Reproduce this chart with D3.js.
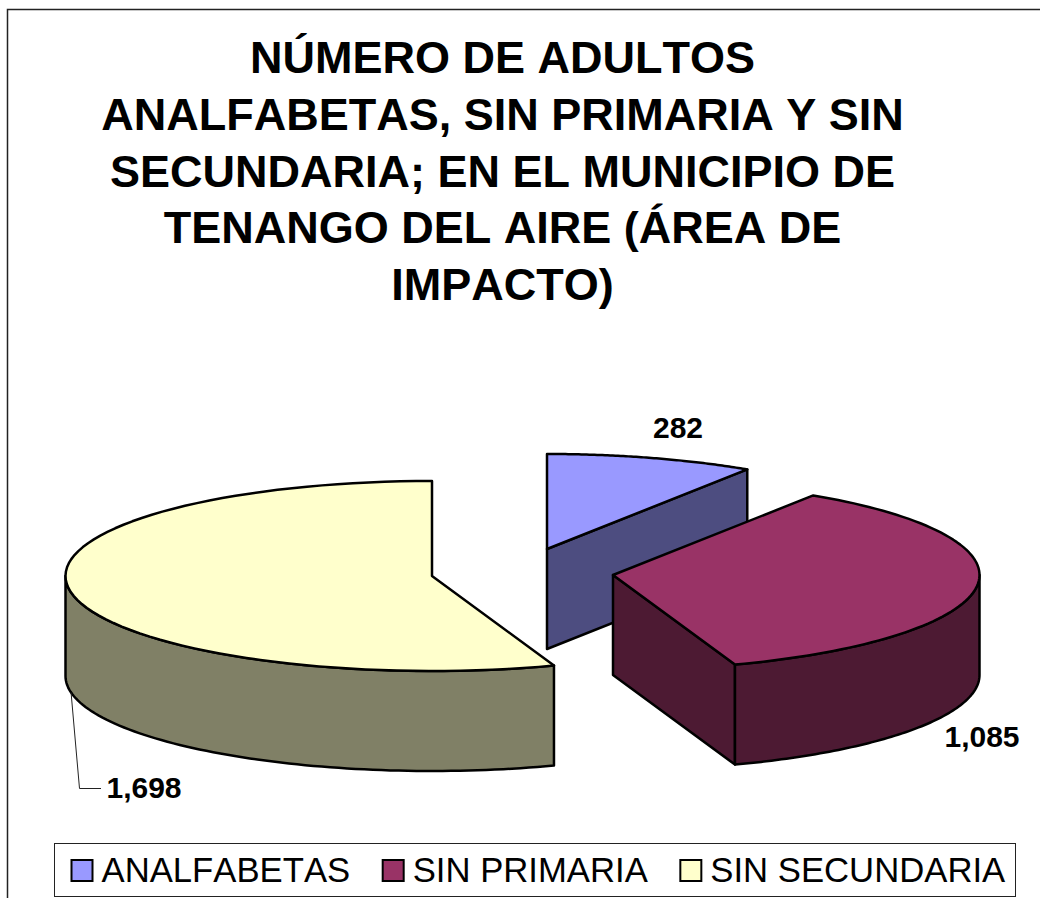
<!DOCTYPE html>
<html>
<head>
<meta charset="utf-8">
<script src="https://cdn.jsdelivr.net/npm/d3@7"></script>
<style>
	html, body { margin: 0; padding: 0; background: #fff; overflow: hidden; }
	svg { display: block; }
	text { font-family: "Liberation Sans", Arial, sans-serif; fill: #000; font-kerning: none; }
</style>
</head>
<body>
<div class="chart"></div>
<script>
const categories = ["ANALFABETAS", "SIN PRIMARIA", "SIN SECUNDARIA"];
const values = [282, 1085, 1698];
const topColors = ["#9999FF", "#993366", "#FFFFCC"];
const sideColors = ["#4D4D80", "#4D1A33", "#808066"];
const titleLines = [
	"NÚMERO DE ADULTOS",
	"ANALFABETAS, SIN PRIMARIA Y SIN",
	"SECUNDARIA; EN EL MUNICIPIO DE",
	"TENANGO DEL AIRE (ÁREA DE",
	"IMPACTO)"
];

let width = 1040, height = 898;
let rx = 366.5, ry = 95, depth = 100;

// pulled out slices, each one has its own center on the page
let centers = [[547, 549], [613, 575], [432, 576]];
let labelPos = [[678, 438], [982, 747], [144, 798]];

let svg = d3.select(".chart")
	.append("svg")
	.attr("width", width)
	.attr("height", height);

// frame is cut by the window on the right and at the bottom
svg.append("path")
	.attr("d", "M7.5," + height + "V9.5H" + width)
	.attr("fill", "none")
	.attr("stroke", "#222")
	.attr("stroke-width", 1.5);

svg.append("g").selectAll("text")
	.data(titleLines)
	.enter().append("text")
	.attr("x", 502.5)
	.attr("y", (d, i) => 73 + i * 56.8)
	.attr("text-anchor", "middle")
	.attr("font-size", 45)
	.attr("font-weight", "bold")
	.text(d => d);

let arcs = d3.pie().sort(null).value(d => d)(values);

let line = d3.line();

function project(c, a, drop) {
	return [c[0] + rx * Math.sin(a), c[1] - ry * Math.cos(a) + (drop || 0)];
}

function rim(c, a0, a1, drop) {
	let n = 80;
	return d3.range(n + 1).map(i => project(c, a0 + (a1 - a0) * i / n, drop));
}

function shape(g, points, fill) {
	g.append("path")
		.attr("d", line(points) + "Z")
		.attr("fill", fill)
		.attr("stroke", "#000")
		.attr("stroke-width", 2.5)
		.attr("stroke-linejoin", "round");
}

let right = Math.PI / 2, left = Math.PI * 1.5;
let chart = svg.append("g");

// blue goes first because the purple slice covers it
[0, 2, 1].forEach(i => {
	let c = centers[i], a0 = arcs[i].startAngle, a1 = arcs[i].endAngle;
	let g = chart.append("g");
	let low = [c[0], c[1] + depth];

	if (i === 0) {
		// cut face towards the lower right
		let p = project(c, a1);
		shape(g, [c, p, [p[0], p[1] + depth], low], sideColors[i]);
	}
	if (i === 1) {
		// cut face towards the lower left, then the round wall
		let p = project(c, a1);
		shape(g, [c, p, [p[0], p[1] + depth], low], sideColors[i]);
		shape(g, rim(c, right, a1).concat(rim(c, a1, right, depth)), sideColors[i]);
	}
	if (i === 2) {
		shape(g, rim(c, a0, left).concat(rim(c, left, a0, depth)), sideColors[i]);
	}
	shape(g, [c].concat(rim(c, a0, a1)), topColors[i]);
});

// leader line of the biggest slice
let leaderStart = project(centers[2], 260 * Math.PI / 180, depth);
svg.append("path")
	.attr("d", line([leaderStart, [79.5, 788.5], [101, 788.5]]))
	.attr("fill", "none")
	.attr("stroke", "#222")
	.attr("stroke-width", 1);

svg.append("g").selectAll("text")
	.data(values)
	.enter().append("text")
	.attr("x", (d, i) => labelPos[i][0])
	.attr("y", (d, i) => labelPos[i][1])
	.attr("text-anchor", "middle")
	.attr("font-size", 30)
	.attr("font-weight", "bold")
	.text(d => d3.format(",")(d));

// legend
let legend = svg.append("g");
legend.append("rect")
	.attr("x", 54.5)
	.attr("y", 843.5)
	.attr("width", 961)
	.attr("height", 53)
	.attr("fill", "#fff")
	.attr("stroke", "#222")
	.attr("stroke-width", 1);

let legendX = 71.5;
categories.forEach((name, i) => {
	legend.append("rect")
		.attr("x", legendX)
		.attr("y", 860)
		.attr("width", 21)
		.attr("height", 21)
		.attr("fill", topColors[i])
		.attr("stroke", "#000")
		.attr("stroke-width", 2);
	let t = legend.append("text")
		.attr("x", legendX + 30)
		.attr("y", 882)
		.attr("font-size", 34.7)
		.text(name);
	legendX += 30 + t.node().getComputedTextLength() + 32.5;
});
</script>
</body>
</html>
